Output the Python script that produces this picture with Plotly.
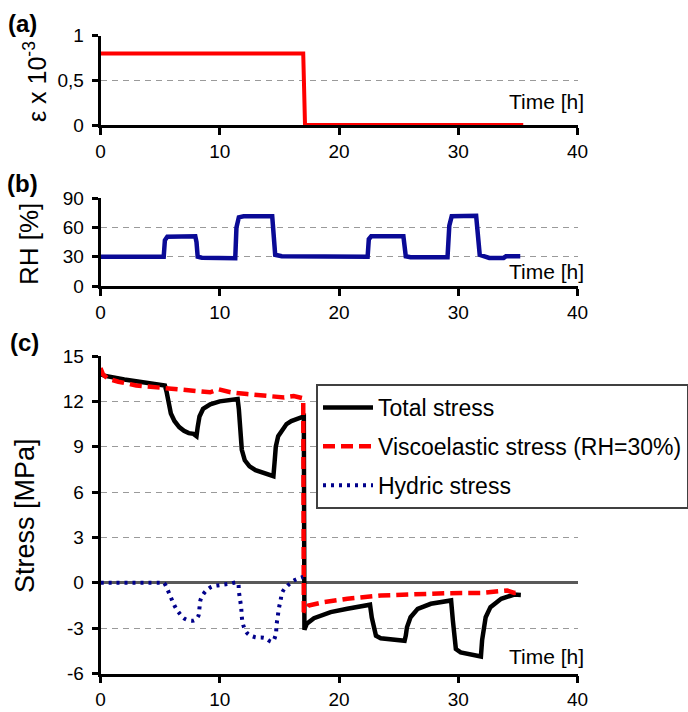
import plotly.graph_objects as go

# ---------------- data ----------------
strain_t = [0, 17.0, 17.15, 35.45]
strain_v = [0.8, 0.8, 0.0, 0.0]

rh_t = [0, 5.3, 5.4, 5.6, 7.95, 8.05, 8.15, 8.5, 11.3, 11.4, 11.6, 12.0, 14.4, 14.5, 14.65, 15.2,
        22.4, 22.5, 22.7, 25.4, 25.5, 25.6, 26.0, 29.1, 29.25, 29.45, 31.5, 31.6, 31.8, 32.6,
        33.8, 34.0, 35.2]
rh_v = [30, 30, 47, 50.5, 51, 45, 30, 29, 28.5, 60, 70.5, 71.5, 71.5, 60, 32, 30.5,
        30, 48, 51, 51, 40, 30.5, 29.5, 29.5, 62, 71.5, 72, 55, 32, 28.8,
        28.8, 30.5, 30.5]

total_t = [0, 0.3, 2, 4, 5.0, 5.4, 5.55, 5.7, 5.9, 6.2, 6.6, 7.0, 7.4, 7.8, 8.05, 8.15, 8.3, 8.6,
           9.2, 10.0, 11.0, 11.5, 11.6, 11.7, 11.85, 12.1, 12.5, 13.0, 13.8, 14.5, 14.6, 14.7,
           14.9, 15.2, 15.6, 16.0, 16.5, 17.05, 17.1, 17.3, 17.9, 19.3, 20.7, 22.3, 22.6, 22.75,
           23.1, 23.5, 24.5, 25.5, 25.6, 25.7, 26.0, 26.6, 27.7, 29.4, 29.55, 29.8, 30.2, 31.0,
           31.9, 32.0, 32.3, 32.7, 33.6, 34.7, 35.25]
total_v = [13.8, 13.7, 13.45, 13.25, 13.15, 13.05, 12.6, 11.8, 11.2, 10.7, 10.3, 10.05, 9.9, 9.85,
           9.7, 10.3, 11.0, 11.5, 11.8, 12.0, 12.1, 12.15, 11.5, 10.0, 8.8, 8.1, 7.7, 7.45, 7.2,
           7.05, 8.0, 9.0, 9.7, 10.1, 10.5, 10.7, 10.85, 11.0, -3.1, -2.7, -2.34, -1.94, -1.72,
           -1.5, -1.45, -2.3, -3.5, -3.67, -3.78, -3.84, -3.5, -2.94, -2.28, -1.72, -1.39, -1.17,
           -2.5, -4.38, -4.6, -4.75, -4.88, -3.8, -2.28, -1.61, -1.06, -0.78, -0.8]

visco_t = [0, 0.2, 0.6, 1.5, 3.0, 5.0, 6.7, 8.6, 9.2, 9.9, 10.9, 12.3, 14.0, 15.4, 16.2, 17.0,
           17.05, 17.45, 18.7, 20.7, 23.5, 26.3, 29.1, 31.9, 34.1, 34.7, 35.0]
visco_v = [14.2, 13.8, 13.5, 13.3, 13.05, 12.9, 12.78, 12.67, 12.6, 12.8, 12.6, 12.48, 12.35,
           12.26, 12.35, 12.2, -1.95, -1.5, -1.28, -1.06, -0.84, -0.73, -0.69, -0.67, -0.51,
           -0.67, -0.65]

hydric_t = [0, 1, 2, 3, 4, 5, 5.3, 5.6, 5.9, 6.2, 6.6, 7.1, 7.8, 8.2, 8.3, 8.4, 8.75, 9.3, 10.05,
            10.8, 11.5, 11.6, 11.7, 11.8, 11.85, 12.0, 12.35, 12.97, 13.76, 14.4, 14.7, 14.75,
            14.85, 14.96, 15.1, 15.25, 15.7, 16.3, 17.0]
hydric_v = [0, 0, 0, 0, 0, 0, 0, -0.42, -0.97, -1.5, -2.0, -2.4, -2.5, -2.2, -1.66, -1.1, -0.62,
            -0.27, -0.15, -0.07, 0, -0.55, -1.1, -1.65, -2.27, -2.87, -3.37, -3.6, -3.65, -3.9,
            -3.4, -2.87, -2.3, -1.7, -1.17, -0.62, -0.18, 0.18, 0.38]

x_ticks = [0, 10, 20, 30, 40]
a_ticks = [0, 0.5, 1]
a_ticklabels = ["0", "0,5", "1"]
b_ticks = [0, 30, 60, 90]
c_ticks = [-6, -3, 0, 3, 6, 9, 12, 15]
c_ticklabels = ["-6", "-3", "0", "3", "6", "9", "12", "15"]

series_names = ["Total stress", "Viscoelastic stress (RH=30%)", "Hydric stress"]

# ---------------- figure ----------------
W, H = 688, 712
FONT = "Arial, Liberation Sans, sans-serif"


def fy(p):
    return 1 - p / H


def fx(p):
    return p / W


fig = go.Figure()
fig.add_trace(go.Scatter(x=strain_t, y=strain_v, mode="lines", xaxis="x", yaxis="y",
                         line=dict(color="#ff0000", width=4), showlegend=False))
fig.add_trace(go.Scatter(x=rh_t, y=rh_v, mode="lines", xaxis="x2", yaxis="y2",
                         line=dict(color="#0a0a96", width=4.5), showlegend=False))
fig.add_trace(go.Scatter(x=total_t, y=total_v, mode="lines", xaxis="x3", yaxis="y3",
                         name=series_names[0], legendgroup="g1",
                         line=dict(color="#000000", width=4.5)))
fig.add_trace(go.Scatter(x=visco_t, y=visco_v, mode="lines", xaxis="x3", yaxis="y3",
                         name=series_names[1], legendgroup="g2",
                         line=dict(color="#ff0000", width=4.5, dash="12px,6px")))
fig.add_trace(go.Scatter(x=hydric_t, y=hydric_v, mode="lines", xaxis="x3", yaxis="y3",
                         name=series_names[2], legendgroup="g3",
                         line=dict(color="#00008b", width=4, dash="3px,5px", shape="spline")))

xdom = [fx(100.5), fx(577.5)]
common_x = dict(range=[0, 40], tickvals=x_ticks, showline=True, linecolor="black", linewidth=2.5,
                ticks="outside", ticklen=7, tickwidth=2.5, tickcolor="black", showgrid=False,
                zeroline=False, tickfont=dict(family=FONT, size=19, color="black"),
                ticklabelstandoff=0, domain=xdom, fixedrange=True)
common_y = dict(showline=True, linecolor="black", linewidth=2.5, ticks="outside", ticklen=6,
                tickwidth=2.5, tickcolor="black", showgrid=True, gridcolor="#9a9a9a",
                gridwidth=1.4, griddash="6px,5px", zeroline=False,
                tickfont=dict(family=FONT, size=19, color="black"), ticklabelstandoff=4,
                fixedrange=True)

fig.update_layout(
    width=W, height=H,
    margin=dict(l=0, r=0, t=0, b=0, autoexpand=False),
    paper_bgcolor="white", plot_bgcolor="white",
    font=dict(family=FONT, color="black"),
    xaxis=dict(common_x, anchor="y"),
    xaxis2=dict(common_x, anchor="y2"),
    xaxis3=dict(common_x, anchor="y3"),
    yaxis=dict(common_y, anchor="x", domain=[fy(125), fy(35.7)], range=[0, 1],
               tickvals=a_ticks, ticktext=a_ticklabels),
    yaxis2=dict(common_y, anchor="x2", domain=[fy(286), fy(198.3)], range=[0, 90],
                tickvals=b_ticks),
    yaxis3=dict(common_y, anchor="x3", domain=[fy(673.5), fy(356)], range=[-6, 15],
                tickvals=c_ticks, ticktext=c_ticklabels,
                zeroline=True, zerolinecolor="#595959", zerolinewidth=2.5),
    legend=dict(x=fx(316), y=fy(384), xanchor="left", yanchor="top",
                bgcolor="white", bordercolor="#404040", borderwidth=2,
                font=dict(family=FONT, size=23, color="black"),
                tracegroupgap=6, itemwidth=50),
    showlegend=True,
)

annots = [
    dict(text="<b>(a)</b>", x=fx(23), y=fy(23)),
    dict(text="<b>(b)</b>", x=fx(23), y=fy(183)),
    dict(text="<b>(c)</b>", x=fx(24), y=fy(343)),
]
for a in annots:
    fig.add_annotation(xref="paper", yref="paper", showarrow=False, xanchor="center",
                       yanchor="middle", font=dict(family=FONT, size=24, color="black"), **a)

titles = [
    ("ε x 10<sup>-3</sup>", 35, 82, 25),
    ("RH [%]", 29, 244, 26),
    ("Stress [MPa]", 25, 516, 27),
]
for t, px, py, fs in titles:
    fig.add_annotation(xref="paper", yref="paper", x=fx(px), y=fy(py), text=t, textangle=-90,
                       showarrow=False, xanchor="center", yanchor="middle",
                       font=dict(family=FONT, size=fs, color="black"))

for py in [102, 271.5, 656.5]:
    fig.add_annotation(xref="paper", yref="paper", x=fx(586), y=fy(py), text="Time [h]",
                       showarrow=False, xanchor="right", yanchor="middle",
                       font=dict(family=FONT, size=21, color="black"))

fig.write_html("out.html")
